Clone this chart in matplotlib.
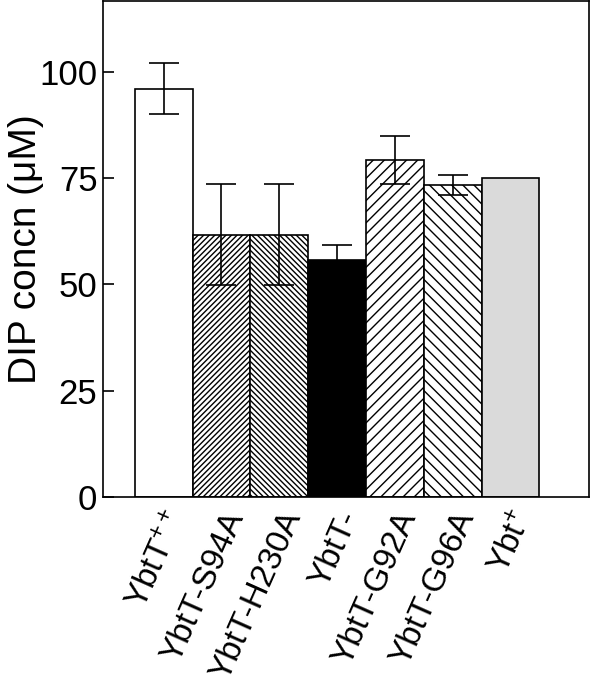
import matplotlib.pyplot as plt
import numpy as np

plt.rcParams['font.family'] = ['Liberation Sans', 'DejaVu Sans']
plt.rcParams['mathtext.fontset'] = 'custom'
plt.rcParams['mathtext.rm'] = 'Liberation Sans'
plt.rcParams['mathtext.it'] = 'Liberation Sans:italic'
plt.rcParams['hatch.linewidth'] = 1.0

# strains and DIP concentrations (uM)
strains = ['YbtT$^{++}$', 'YbtT-S94A', 'YbtT-H230A', 'YbtT-',
           'YbtT-G92A', 'YbtT-G96A', 'Ybt$^{+}$']
dip = [96.0, 61.7, 61.7, 55.7, 79.2, 73.3, 75.0]
err = [6.0, 11.8, 11.8, 3.6, 5.7, 2.3, 0.0]

colors = ['white', 'white', 'white', 'black', 'white', 'white', '#dadada']
hatches = ['', '//////', '\\\\\\\\\\\\', '', '///', '\\\\\\', '']

fig = plt.figure(figsize=(5.91, 6.87), dpi=100)
ax = fig.add_axes([0.1743, 0.2766, 0.8223, 0.7219])

x = np.arange(len(strains))
for i in x:
    ax.bar(i, dip[i], width=1.0, color=colors[i], edgecolor='black',
           linewidth=1.2, hatch=hatches[i])
    if err[i] > 0:
        ax.errorbar(i, dip[i], yerr=err[i], fmt='none', ecolor='black',
                    elinewidth=1.2, capsize=10.8, capthick=1.2)

ax.set_xlim(-1.05, 7.36)
ax.set_ylim(0, 116.6)
ax.set_yticks([0, 25, 50, 75, 100])
ax.tick_params(axis='y', direction='in', length=8, width=1.2, labelsize=25, pad=4)
ax.tick_params(axis='x', length=0, pad=7)
ax.set_xticks(x)
ax.set_xticklabels(strains, rotation=66, ha='right', va='top',
                   rotation_mode='anchor', fontsize=24)
for s in ax.spines.values():
    s.set_linewidth(1.2)

fig.text(26 / 591, 1 - 249 / 687, 'DIP concn (\u03bcM)', rotation=90,
         ha='center', va='center', fontsize=28)

fig.savefig('out.png', dpi=100)
